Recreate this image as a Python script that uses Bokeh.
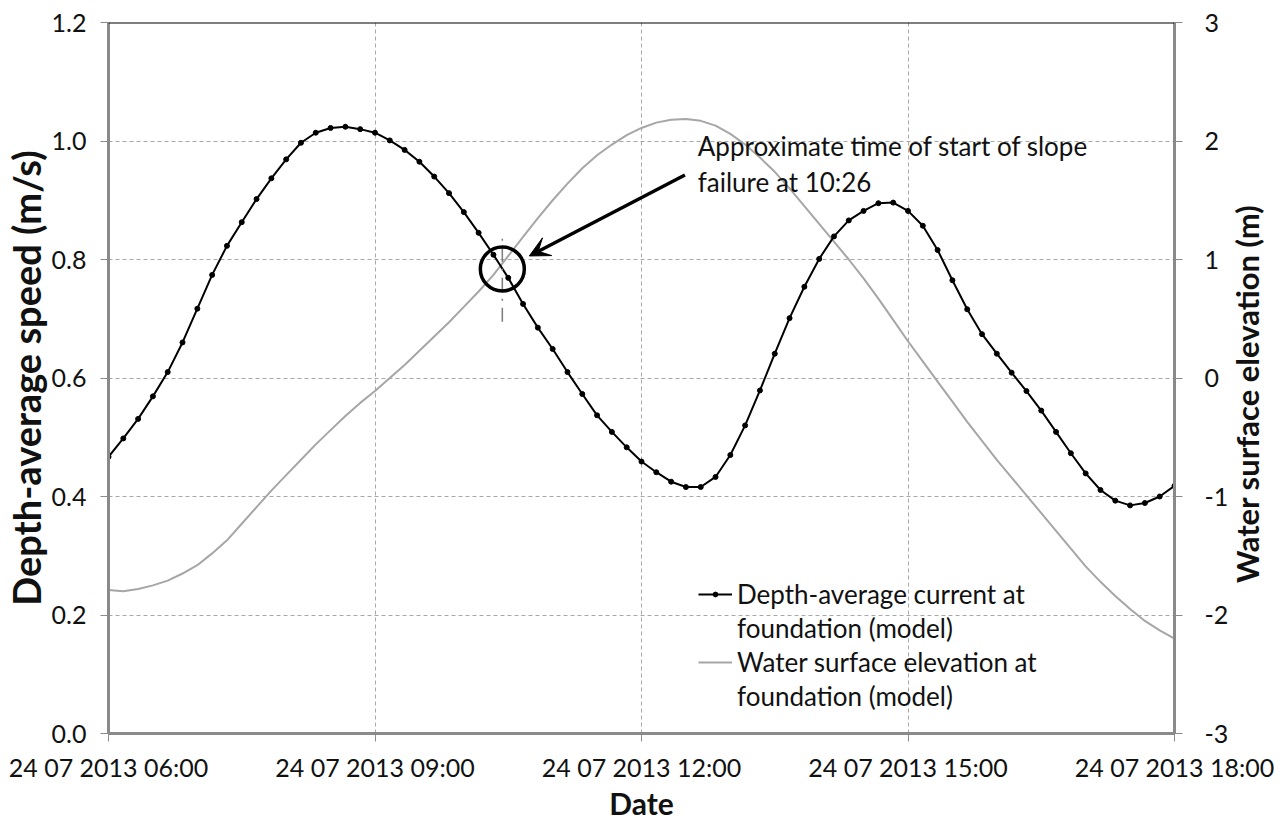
import math
import pandas as pd
from bokeh.plotting import figure
from bokeh.models import (Range1d, LinearAxis, FixedTicker, DatetimeTickFormatter,
                          PrintfTickFormatter, Span, Arrow, VeeHead, Label, Legend,
                          LegendItem, Title)
from bokeh.embed import file_html
from bokeh.resources import INLINE

# ---- data -------------------------------------------------------------
# model output every 10 minutes
times = pd.date_range("2013-07-24 06:00", "2013-07-24 18:00", freq="10min")

# depth-average current speed (m/s)
speed = [0.467, 0.498, 0.531, 0.569, 0.610, 0.660, 0.717, 0.774, 0.823, 0.863,
         0.902, 0.937, 0.969, 0.997, 1.014, 1.022, 1.024, 1.020, 1.014, 1.001,
         0.985, 0.965, 0.940, 0.912, 0.880, 0.845, 0.808, 0.769, 0.725, 0.685,
         0.649, 0.610, 0.573, 0.537, 0.509, 0.483, 0.459, 0.441, 0.425, 0.416,
         0.416, 0.433, 0.470, 0.520, 0.579, 0.641, 0.701, 0.754, 0.801, 0.839,
         0.866, 0.882, 0.895, 0.896, 0.882, 0.857, 0.816, 0.765, 0.716, 0.674,
         0.641, 0.609, 0.578, 0.545, 0.509, 0.473, 0.439, 0.411, 0.393, 0.385,
         0.389, 0.400, 0.418]

# water surface elevation (m)
elev = [-1.79, -1.80, -1.78, -1.75, -1.71, -1.65, -1.58, -1.48, -1.37, -1.23,
        -1.09, -0.95, -0.82, -0.69, -0.56, -0.44, -0.32, -0.21, -0.11, 0.00,
        0.11, 0.23, 0.35, 0.47, 0.60, 0.73, 0.87, 1.03, 1.19, 1.35,
        1.50, 1.64, 1.77, 1.88, 1.97, 2.05, 2.11, 2.155, 2.18, 2.185,
        2.17, 2.13, 2.06, 1.97, 1.86, 1.74, 1.60, 1.45, 1.30, 1.15,
        1.00, 0.84, 0.67, 0.49, 0.31, 0.14, -0.03, -0.20, -0.37, -0.53,
        -0.69, -0.84, -0.99, -1.14, -1.29, -1.44, -1.59, -1.72, -1.84, -1.95,
        -2.05, -2.13, -2.20]

x_ticks = pd.date_range("2013-07-24 06:00", "2013-07-24 18:00", freq="3h")
speed_ticks = [0.0, 0.2, 0.4, 0.6, 0.8, 1.0, 1.2]
elev_ticks = [-3, -2, -1, 0, 1, 2, 3]
elev_tick_text = {t: ("-%d" % -t if t < 0 else "%d" % t) for t in elev_ticks}

failure_time = pd.Timestamp("2013-07-24 10:26")
failure_speed = 0.784

FONT = "Lato"
TXT = "#111111"
AXIS_GREY = "#8a8a8a"


def ms(ts):
    return ts.value / 1e6


p = figure(width=1288, height=823, x_axis_type="datetime",
           x_range=Range1d(times[0], times[-1]),
           y_range=Range1d(0, 1.2),
           output_backend="svg", toolbar_location=None,
           min_border_left=107, min_border_right=112,
           min_border_top=22, min_border_bottom=88)
p.outline_line_color = None
p.background_fill_color = "white"
p.border_fill_color = "white"
p.extra_y_ranges = {"elev": Range1d(-3, 3)}

# ---- axes -------------------------------------------------------------
right_axis = LinearAxis(y_range_name="elev", ticker=FixedTicker(ticks=elev_ticks),
                        major_label_overrides=elev_tick_text)
p.add_layout(right_axis, "right")

xax = p.xaxis[0]
yax = p.yaxis[0]
xax.ticker = FixedTicker(ticks=[ms(t) for t in x_ticks])
fmt = "%d %m %Y %H:%M"
xax.formatter = DatetimeTickFormatter(
    microseconds=fmt, milliseconds=fmt, seconds=fmt, minsec=fmt, minutes=fmt,
    hourmin=fmt, hours=fmt, days=fmt, months=fmt, years=fmt)
yax.ticker = FixedTicker(ticks=speed_ticks)
yax.formatter = PrintfTickFormatter(format="%.1f")

for ax in (xax, yax, right_axis):
    ax.axis_line_color = AXIS_GREY
    ax.axis_line_width = 3
    ax.major_tick_line_color = AXIS_GREY
    ax.major_tick_line_width = 1
    ax.major_tick_out = 8
    ax.major_tick_in = 0
    ax.minor_tick_line_color = None
    ax.major_label_text_font = FONT
    ax.major_label_text_font_size = "25px"
    ax.major_label_text_color = TXT
for ax in (xax, right_axis):
    ax.axis_label_text_font = FONT
    ax.axis_label_text_font_style = "bold"
    ax.axis_label_text_color = TXT

xax.major_label_standoff = 10
xax.axis_label = "Date"
xax.axis_label_standoff = 0
xax.axis_label_text_font_size = "30px"
yax.major_label_standoff = 14
right_axis.major_label_standoff = 22

# left axis title, a little below the middle of the axis
p.add_layout(Title(text="Depth-average speed (m/s)", align="center", offset=-22,
                   standoff=0, text_font=FONT, text_font_size="38px",
                   text_font_style="bold", text_color=TXT), "left")

# right axis title, reading upwards like the left one
right_title = "Water surface elevation (m)"
right_axis.axis_label_orientation = math.pi / 2
right_axis.axis_label_standoff = 16
right_axis.axis_label_text_font_size = "31px"
if "axis_label_align" in LinearAxis.properties():
    # laid out upwards from the bottom of the axis; lead in so it sits mid-height
    right_axis.axis_label_align = "start"
    right_axis.axis_label = "\u00a0" * 20 + right_title
else:
    right_axis.axis_label = right_title

# grid
p.xgrid.ticker = FixedTicker(ticks=[ms(t) for t in x_ticks])
p.ygrid.ticker = FixedTicker(ticks=speed_ticks)
for g in (p.xgrid, p.ygrid):
    g.grid_line_color = "#a8a8a8"
    g.grid_line_dash = "4 3"
    g.grid_line_width = 1

# black frame edge along the top
p.add_layout(Span(location=1.2, dimension="width", line_color="black", line_width=2))

# ---- series -----------------------------------------------------------
r_elev = p.line(times, elev, y_range_name="elev", line_color="#a6a6a6", line_width=2)
r_speed = p.line(times, speed, line_color="black", line_width=2)
r_speed_pts = p.scatter(times, speed, size=5, color="black")

# ---- annotation of the slope failure ----------------------------------
p.segment(x0=[failure_time], y0=[0.695], x1=[failure_time], y1=[0.843],
          line_color="#7a7a7a", line_width=1.5, line_dash="14 7 2 7")
p.scatter(x=[failure_time], y=[failure_speed], size=44, marker="circle",
          fill_color=None, line_color="black", line_width=3.5)
p.add_layout(Arrow(end=VeeHead(size=20, fill_color="black", line_color="black"),
                   x_start=ms(pd.Timestamp("2013-07-24 12:29:20")), y_start=0.9425,
                   x_end=ms(pd.Timestamp("2013-07-24 10:44:15")), y_end=0.806,
                   line_color="black", line_width=3.5))
p.add_layout(Label(x=ms(pd.Timestamp("2013-07-24 12:38")), y=1.018,
                   text="Approximate time of start of slope\nfailure at 10:26",
                   text_align="left", text_baseline="top",
                   text_font=FONT, text_font_size="26px", text_color=TXT,
                   text_line_height=1.1))

# ---- legend -----------------------------------------------------------
legend = Legend(items=[
    LegendItem(label="Depth-average current at", renderers=[r_speed, r_speed_pts]),
    LegendItem(label="foundation (model)", renderers=[]),
    LegendItem(label="Water surface elevation at", renderers=[r_elev]),
    LegendItem(label="foundation (model)", renderers=[]),
], location=(590, 21))
legend.padding = 0
legend.margin = 0
legend.spacing = 2
legend.border_line_color = None
legend.background_fill_alpha = 0
legend.glyph_width = 34
legend.glyph_height = 12
legend.label_standoff = 5
legend.label_height = 31
legend.label_text_font = FONT
legend.label_text_font_size = "26px"
legend.label_text_color = TXT
p.add_layout(legend)

open("out.html", "w").write(file_html(p, INLINE))
